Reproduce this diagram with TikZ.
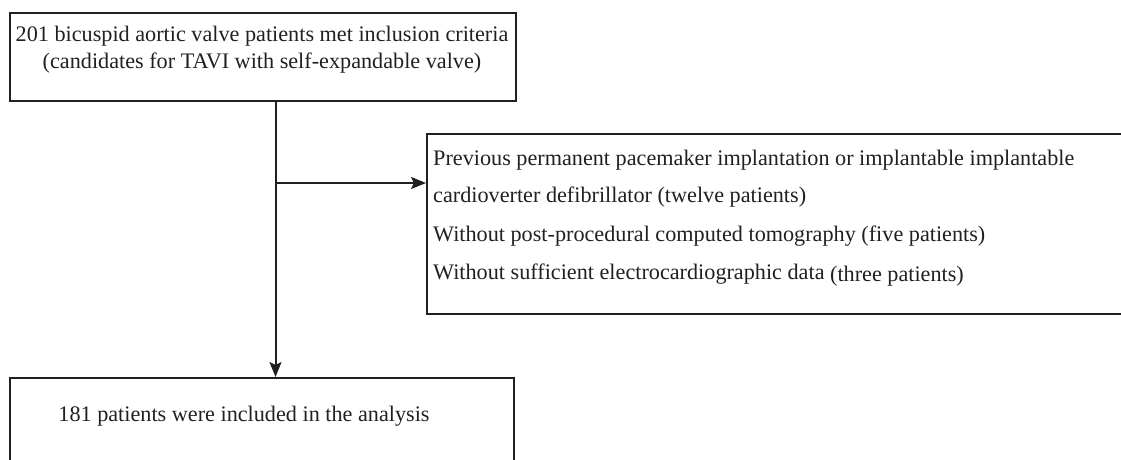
\documentclass[tikz,border=0pt]{standalone}
\usepackage{fontspec}
\setmainfont{Liberation Serif}
\usetikzlibrary{arrows.meta}
\definecolor{ink}{HTML}{231F20}
\begin{document}
\begin{tikzpicture}[x=1pt,y=-1pt,
  box/.style={draw=ink, line width=1.6pt, inner sep=0pt},
  txt/.style={text=ink, inner sep=0pt, font=\fontsize{22.2}{27}\selectfont},
  conn/.style={draw=ink, line width=2pt},
  arr/.style={conn, -{Stealth[length=15pt,width=12pt,inset=3pt]}}]
\useasboundingbox (0,0) rectangle (1121,459);
\clip (0,0) rectangle (1121,459);
% top box
\node[box, minimum width=506pt, minimum height=88pt, anchor=north west] (top) at (9,12) {};
\node[txt, align=center] (toptxt) at (262,50) {201 bicuspid aortic valve patients met inclusion criteria\\(candidates for TAVI with self-expandable valve)};
% exclusion box
\node[box, minimum width=760pt, minimum height=180pt, anchor=north west] (excl) at (426,133) {};
\node[txt, anchor=base west] (e1) at (433,165) {Previous permanent pacemaker implantation or implantable implantable};
\node[txt, anchor=base west] (e2) at (433,202) {cardioverter defibrillator (twelve patients)};
\node[txt, anchor=base west] (e3) at (433,241) {Without post-procedural computed tomography (five patients)};
\node[txt, anchor=base west] (e4) at (433,279) {Without sufficient electrocardiographic data \raisebox{-2pt}{(three patients)}};
% bottom box
\node[box, minimum width=504pt, minimum height=120pt, anchor=north west] (bot) at (9,377) {};
\node[txt] (bottxt) at (244,416) {181 patients were included in the analysis};
% connectors
\coordinate (split) at (275.5,183);
\draw[arr] (top.south -| split) -- (bot.north -| split);
\draw[arr] (split) -- (excl.west |- split);
\end{tikzpicture}
\end{document}
